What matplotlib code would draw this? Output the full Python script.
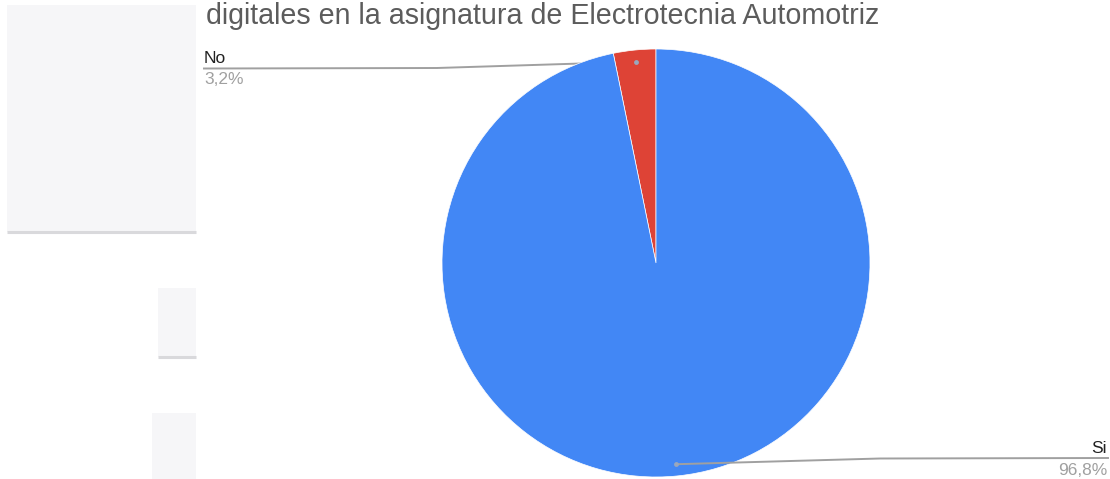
import numpy as np
import matplotlib
matplotlib.use("Agg")
import matplotlib.pyplot as plt
from matplotlib.patches import Rectangle

# ---------------
# Survey results
# ---------------
labels = ["No", "Si"]
values = [3.2, 96.8]
colors = ["#DE4336", "#4287F5"]
title = "digitales en la asignatura de Electrotecnia Automotriz"

plt.rcParams["font.family"] = ["Liberation Sans", "DejaVu Sans"]

W, H = 1110, 479
fig = plt.figure(figsize=(W / 100, H / 100), dpi=100)
ax = fig.add_axes([0, 0, 1, 1])

# pixel-like coordinates, y grows downwards
cx, cy, R = 656, 263, 214

# pie starts at 12 o'clock going (visually) counter-clockwise
wedges, _ = ax.pie(values, colors=colors, startangle=270, counterclock=False,
                   center=(cx, cy), radius=R,
                   wedgeprops=dict(edgecolor="white", linewidth=0.5, zorder=3))
ax.set_xlim(0, W)
ax.set_ylim(H, 0)
ax.set_aspect("equal")
ax.axis("off")

# grey form boxes on the left side
for x0, y0, x1, y1 in [(7, 5, 196, 232), (158, 288, 196, 357), (152, 413, 196, 490)]:
    ax.add_patch(Rectangle((x0, y0), x1 - x0, y1 - y0, facecolor="#f6f6f8",
                           edgecolor="none", zorder=1))
    ax.plot([x0, x1], [y1, y1], color="#d9d9dc", lw=2.2, zorder=1,
            solid_capstyle="butt")

# title (second line of the question)
ax.text(206, 24, title, fontsize=20.6, color="#5c5c5c", ha="left", va="baseline")

# leader dots at the middle of each slice
total = sum(values)
start = 90.0
dots = []
for v in values:
    mid = np.deg2rad(start + v / total * 360 / 2)
    start += v / total * 360
    dx = cx + 0.945 * R * np.cos(mid)
    dy = cy - 0.945 * R * np.sin(mid)
    dots.append((dx, dy))

line_col = "#a0a0a0"
# "No" leader
dx, dy = dots[0]
ax.plot([dx, 437, 204], [dy, 68, 68.5], color=line_col, lw=1.4, zorder=2)
ax.text(204, 63, labels[0], fontsize=12.5, color="#222222", ha="left", va="baseline")
ax.text(204, 84, f"{values[0]:.1f}".replace(".", ",") + "%", fontsize=12.5,
        color="#a0a0a0", ha="left", va="baseline")

# "Si" leader
dx, dy = dots[1]
ax.plot([dx, 880, 1108], [dy, 458.5, 458], color=line_col, lw=1.4, zorder=4)
ax.text(1107, 453, labels[1], fontsize=12.5, color="#222222", ha="right", va="baseline")
ax.text(1107, 475, f"{values[1]:.1f}".replace(".", ",") + "%", fontsize=12.5,
        color="#a0a0a0", ha="right", va="baseline")

for dx, dy in dots:
    ax.plot(dx, dy, "o", ms=3.5, color="#9aa7bd", mec="none", zorder=5)

fig.savefig("out.png", dpi=100)
